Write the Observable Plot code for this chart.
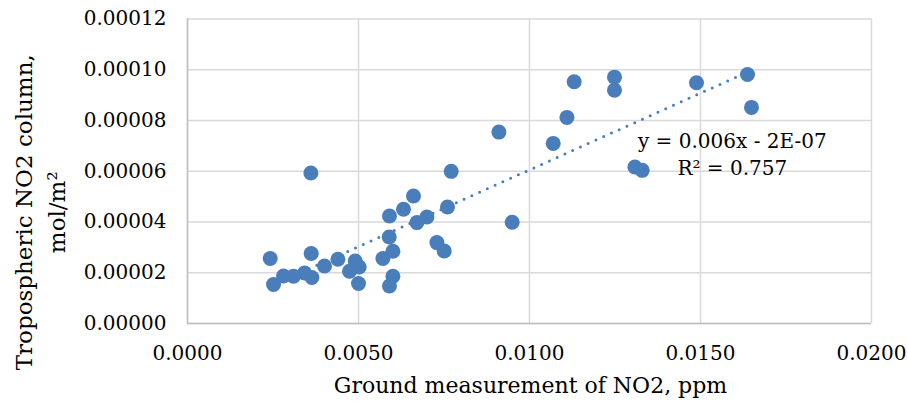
<!DOCTYPE html>
<html>
<head>
<meta charset="utf-8">
<script src="https://cdn.jsdelivr.net/npm/d3@7"></script>
<script src="https://cdn.jsdelivr.net/npm/@observablehq/plot@0.6"></script>
<style>
  html, body { margin: 0; padding: 0; background: #fff; }
  #chart { width: 908px; height: 410px; }
</style>
</head>
<body>
<div id="chart"></div>
<script>
// Ground measurement of NO2 (ppm)
const groundNO2 = [
  0.002418, 0.002515, 0.002807, 0.003099, 0.003421, 0.003617, 0.003637, 0.003608,
  0.004006, 0.004398, 0.004737, 0.004904, 0.005020, 0.005000, 0.005713, 0.005906,
  0.005898, 0.005906, 0.006006, 0.006006, 0.006316, 0.006608, 0.006708, 0.007000,
  0.007292, 0.007506, 0.007602, 0.007711, 0.009105, 0.009494, 0.010693, 0.011094,
  0.011307, 0.012485, 0.012485, 0.013082, 0.013295, 0.014883, 0.016374, 0.016491
];
// Tropospheric NO2 column (mol/m2)
const tropNO2 = [
  2.559e-5, 1.535e-5, 1.874e-5, 1.862e-5, 1.992e-5, 2.756e-5, 1.811e-5, 5.929e-5,
  2.268e-5, 2.531e-5, 2.059e-5, 2.465e-5, 2.228e-5, 1.575e-5, 2.559e-5, 4.236e-5,
  3.409e-5, 1.480e-5, 2.846e-5, 1.862e-5, 4.500e-5, 5.024e-5, 3.976e-5, 4.197e-5,
  3.189e-5, 2.858e-5, 4.591e-5, 5.996e-5, 7.543e-5, 3.988e-5, 7.098e-5, 8.122e-5,
  9.528e-5, 9.709e-5, 9.197e-5, 6.165e-5, 6.035e-5, 9.488e-5, 9.815e-5, 8.516e-5
];
const xTicks = [0, 0.005, 0.010, 0.015, 0.020];
const yTicks = [0, 0.00002, 0.00004, 0.00006, 0.00008, 0.00010, 0.00012];
const equationLines = ["y = 0.006x - 2E-07", "R² = 0.757"];
const xTitle = "Ground measurement of NO2, ppm";
const yTitleLines = ["Tropospheric NO2 column,", "mol/m²"];

const points = groundNO2.map((x, i) => ({x, y: tropNO2[i]}));
const blue = "#4A7EBB";

const chart = Plot.plot({
  width: 908,
  height: 410,
  marginLeft: 187,
  marginRight: 37,
  marginTop: 18.5,
  marginBottom: 87,
  style: {fontFamily: "'DejaVu Serif', serif", fontSize: "20px", color: "#000", background: "#fff"},
  x: {domain: [0, 0.02], label: null},
  y: {domain: [0, 0.00012], label: null},
  marks: [
    Plot.gridX(xTicks, {stroke: "#D9D9D9", strokeOpacity: 1, strokeWidth: 1.5}),
    Plot.gridY(yTicks, {stroke: "#D9D9D9", strokeOpacity: 1, strokeWidth: 1.5}),
    Plot.ruleX([0], {stroke: "#BFBFBF", strokeWidth: 1.5}),
    Plot.ruleY([0], {stroke: "#BFBFBF", strokeWidth: 1.5}),
    Plot.axisX(xTicks, {tickSize: 0, tickPadding: 22, tickFormat: d3.format(".4f"), label: null, fontSize: 20}),
    Plot.axisY(yTicks, {tickSize: 0, tickPadding: 21, tickFormat: d3.format(".5f"), label: null, fontSize: 20}),
    Plot.linearRegressionY(points, {
      x: "x", y: "y", ci: 0, stroke: blue, strokeWidth: 3,
      strokeDasharray: "0 8.5", strokeLinecap: "round"
    }),
    Plot.dot(points, {x: "x", y: "y", r: 7.5, fill: blue, stroke: "none"}),
    Plot.text([equationLines.join("\n")], {
      x: () => 0.01593, y: () => 6.72e-5, text: d => d,
      fontSize: 20, lineHeight: 1.33, fill: "#000", textAnchor: "middle"
    }),
    Plot.text([xTitle], {
      frameAnchor: "bottom", dy: 69, text: d => d, fontSize: 22, fill: "#000", dx: 1
    }),
    Plot.text([yTitleLines.join("\n")], {
      frameAnchor: "left", rotate: -90, dx: -149.5, dy: 41, text: d => d,
      fontSize: 23, lineHeight: 1.45, fill: "#000", textAnchor: "middle"
    })
  ]
});
document.getElementById("chart").appendChild(chart);
</script>
</body>
</html>
